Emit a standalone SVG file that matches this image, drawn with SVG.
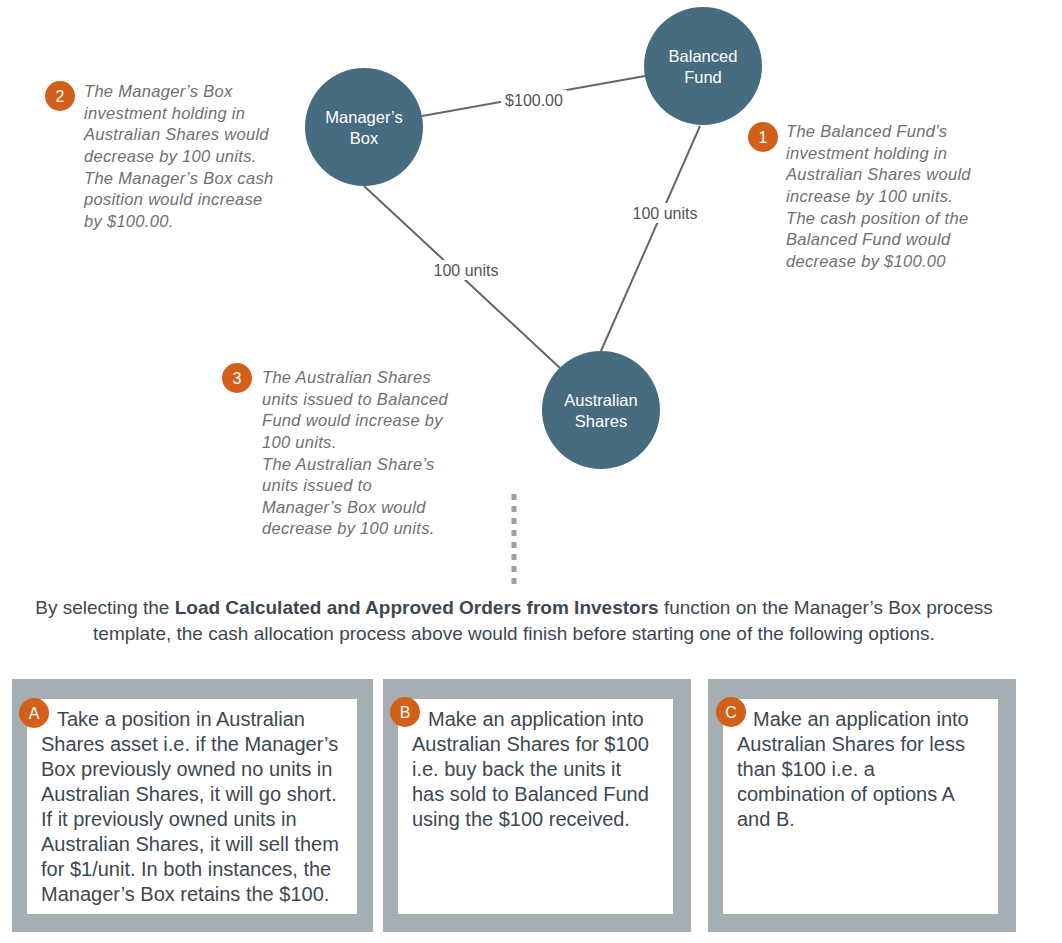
<svg xmlns="http://www.w3.org/2000/svg" width="1062" height="943" viewBox="0 0 1062 943">
<style>
.node{fill:#476b7f}
.nlabel{font-family:"Liberation Sans",Arial,sans-serif;font-size:16.5px;fill:#ffffff;text-anchor:middle}
.edge{stroke:#666666;stroke-width:2;fill:none}
.elabel{font-family:"Liberation Sans",Arial,sans-serif;font-size:16px;fill:#555555;text-anchor:middle}
.elbg{fill:#ffffff}
.badge{fill:#d2601a}
.btxt{font-family:"Liberation Sans",Arial,sans-serif;font-size:16px;fill:#ffffff;text-anchor:middle}
.note{font-family:"Liberation Sans",Arial,sans-serif;font-size:16.5px;font-style:italic;fill:#707070;letter-spacing:0.3px}
.para{font-family:"Liberation Sans",Arial,sans-serif;font-size:19px;fill:#3d4853;text-anchor:middle}
.outer{fill:#a5aeb3}
.inner{fill:#ffffff}
.box{font-family:"Liberation Sans",Arial,sans-serif;font-size:20px;fill:#3d4853}
.dots{stroke:#a0a0a0;stroke-width:5;stroke-dasharray:6 6}
</style>
<rect width="1062" height="943" fill="#ffffff"/>

<g id="connectors">
<line class="edge" x1="422" y1="116" x2="645" y2="76"/>
<line class="edge" x1="364" y1="186" x2="560" y2="368"/>
<line class="edge" x1="700" y1="126" x2="601" y2="351"/>
<rect class="elbg" x="501" y="90" width="66" height="20"/>
<text class="elabel" x="534" y="106">$100.00</text>
<rect class="elbg" x="431" y="260" width="70" height="20"/>
<text class="elabel" x="466" y="276">100 units</text>
<rect class="elbg" x="630" y="203" width="70" height="20"/>
<text class="elabel" x="665" y="219">100 units</text>
</g>

<g id="node-managers-box">
<circle class="node" cx="364" cy="127" r="59"/>
<text class="nlabel" x="364" y="123">Manager’s</text>
<text class="nlabel" x="364" y="144">Box</text>
</g>
<g id="node-balanced-fund">
<circle class="node" cx="703" cy="66" r="59"/>
<text class="nlabel" x="703" y="62">Balanced</text>
<text class="nlabel" x="703" y="83">Fund</text>
</g>
<g id="node-australian-shares">
<circle class="node" cx="601" cy="410" r="59"/>
<text class="nlabel" x="601" y="406">Australian</text>
<text class="nlabel" x="601" y="427">Shares</text>
</g>

<g id="note-1">
<circle class="badge" cx="763" cy="137" r="15"/>
<text class="btxt" x="763" y="143">1</text>
<text class="note" x="786" y="137">The Balanced Fund’s</text>
<text class="note" x="786" y="159">investment holding in</text>
<text class="note" x="786" y="180">Australian Shares would</text>
<text class="note" x="786" y="202">increase by 100 units.</text>
<text class="note" x="786" y="224">The cash position of the</text>
<text class="note" x="786" y="245">Balanced Fund would</text>
<text class="note" x="786" y="267">decrease by $100.00</text>
</g>
<g id="note-2">
<circle class="badge" cx="60" cy="96" r="15"/>
<text class="btxt" x="60" y="102">2</text>
<text class="note" x="84" y="97">The Manager’s Box</text>
<text class="note" x="84" y="119">investment holding in</text>
<text class="note" x="84" y="140">Australian Shares would</text>
<text class="note" x="84" y="162">decrease by 100 units.</text>
<text class="note" x="84" y="184">The Manager’s Box cash</text>
<text class="note" x="84" y="205">position would increase</text>
<text class="note" x="84" y="227">by $100.00.</text>
</g>
<g id="note-3">
<circle class="badge" cx="237" cy="378" r="15"/>
<text class="btxt" x="237" y="384">3</text>
<text class="note" x="262" y="383">The Australian Shares</text>
<text class="note" x="262" y="405">units issued to Balanced</text>
<text class="note" x="262" y="426">Fund would increase by</text>
<text class="note" x="262" y="448">100 units.</text>
<text class="note" x="262" y="470">The Australian Share’s</text>
<text class="note" x="262" y="491">units issued to</text>
<text class="note" x="262" y="513">Manager’s Box would</text>
<text class="note" x="262" y="534">decrease by 100 units.</text>
</g>

<line class="dots" x1="514" y1="494" x2="514" y2="584"/>

<g id="paragraph">
<text class="para" x="514" y="614">By selecting the <tspan font-weight="bold">Load Calculated and Approved Orders from Investors</tspan> function on the Manager’s Box process</text>
<text class="para" x="514" y="640">template, the cash allocation process above would finish before starting one of the following options.</text>
</g>

<g id="option-a">
<rect class="outer" x="12" y="679" width="361" height="253"/>
<rect class="inner" x="27" y="699" width="330" height="215"/>
<circle class="badge" cx="34" cy="713" r="15"/>
<text class="btxt" x="34" y="719">A</text>
<text class="box" x="57" y="726">Take a position in Australian</text>
<text class="box" x="41" y="751">Shares asset i.e. if the Manager’s</text>
<text class="box" x="41" y="776">Box previously owned no units in</text>
<text class="box" x="41" y="801">Australian Shares, it will go short.</text>
<text class="box" x="41" y="826">If it previously owned units in</text>
<text class="box" x="41" y="851">Australian Shares, it will sell them</text>
<text class="box" x="41" y="876">for $1/unit. In both instances, the</text>
<text class="box" x="41" y="901">Manager’s Box retains the $100.</text>
</g>
<g id="option-b">
<rect class="outer" x="383" y="679" width="308" height="253"/>
<rect class="inner" x="398" y="699" width="275" height="215"/>
<circle class="badge" cx="405" cy="712" r="15"/>
<text class="btxt" x="405" y="718">B</text>
<text class="box" x="428" y="726">Make an application into</text>
<text class="box" x="412" y="751">Australian Shares for $100</text>
<text class="box" x="412" y="776">i.e. buy back the units it</text>
<text class="box" x="412" y="801">has sold to Balanced Fund</text>
<text class="box" x="412" y="826">using the $100 received.</text>
</g>
<g id="option-c">
<rect class="outer" x="708" y="679" width="308" height="253"/>
<rect class="inner" x="723" y="699" width="275" height="215"/>
<circle class="badge" cx="731" cy="712" r="15"/>
<text class="btxt" x="731" y="718">C</text>
<text class="box" x="753" y="726">Make an application into</text>
<text class="box" x="737" y="751">Australian Shares for less</text>
<text class="box" x="737" y="776">than $100 i.e. a</text>
<text class="box" x="737" y="801">combination of options A</text>
<text class="box" x="737" y="826">and B.</text>
</g>
</svg>
